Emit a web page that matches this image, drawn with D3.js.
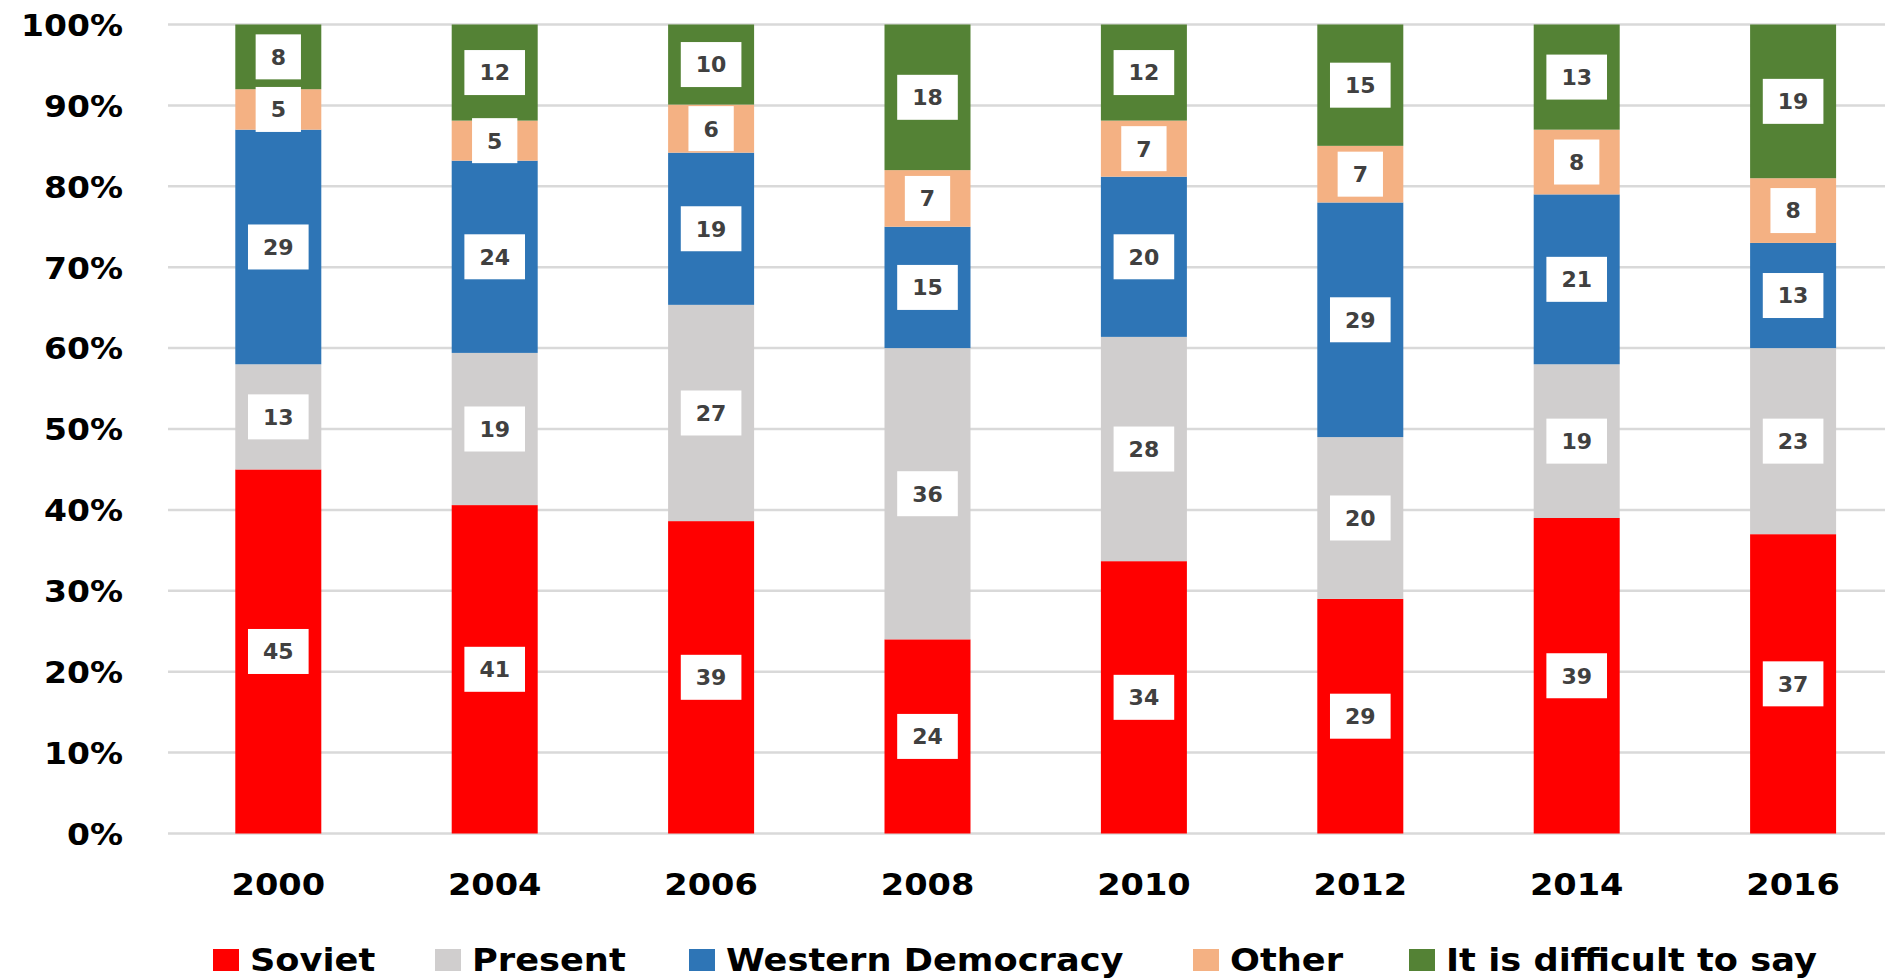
<!DOCTYPE html>
<html>
<head>
<meta charset="utf-8">
<script src="https://cdn.jsdelivr.net/npm/d3@7"></script>
<style>
  html, body { margin: 0; padding: 0; background: #fff; }
  svg { display: block; }
</style>
</head>
<body>
<svg id="chart" width="1885" height="979"></svg>
<script>
// ---- data ----
const years = ["2000", "2004", "2006", "2008", "2010", "2012", "2014", "2016"];
const seriesNames = ["Soviet", "Present", "Western Democracy", "Other", "It is difficult to say"];
const soviet    = [45, 41, 39, 24, 34, 29, 39, 37];
const present   = [13, 19, 27, 36, 28, 20, 19, 23];
const western   = [29, 24, 19, 15, 20, 29, 21, 13];
const other     = [5, 5, 6, 7, 7, 7, 8, 8];
const difficult = [8, 12, 10, 18, 12, 15, 13, 19];
const yTicks = [0, 0.1, 0.2, 0.3, 0.4, 0.5, 0.6, 0.7, 0.8, 0.9, 1.0];
const colors = ["#ff0000", "#d0cece", "#2e75b6", "#f4b183", "#548235"];

// ---- build table ----
const seriesValues = [soviet, present, western, other, difficult];
const rows = years.map((y, i) => {
  const r = { year: y };
  seriesNames.forEach((s, k) => r[s] = seriesValues[k][i]);
  return r;
});

const svg = d3.select("#chart");
const FONT = "'DejaVu Sans', Verdana, sans-serif";

const x = d3.scaleBand().domain(years).range([168, 1903.4]).paddingInner(0.6026).paddingOuter(0.311);
const y = d3.scaleLinear().domain([0, 1]).range([833.5, 24.5]);

function stretch(sel, f) {
  sel.each(function() {
    const w = this.getComputedTextLength();
    d3.select(this).attr("textLength", w * f).attr("lengthAdjust", "spacingAndGlyphs");
  });
}

// gridlines
svg.append("g").selectAll("line").data(yTicks).join("line")
  .attr("x1", 168).attr("x2", 1903)
  .attr("y1", d => y(d)).attr("y2", d => y(d))
  .attr("stroke", "#d9d9d9").attr("stroke-width", 2.5);

// y axis labels
const yAxis = svg.append("g").attr("transform", "translate(123,0)")
  .call(d3.axisLeft(y).tickValues(yTicks).tickFormat(d3.format(".0%")).tickSize(0).tickPadding(0));
yAxis.select(".domain").remove();
yAxis.selectAll("text")
  .attr("font-family", FONT).attr("font-weight", "bold").attr("font-size", 30)
  .attr("fill", "#000").attr("dy", "0.36em");
stretch(yAxis.selectAll("text"), 1.1);

// stacked bars
const stack = d3.stack().keys(seriesNames).offset(d3.stackOffsetExpand);
const stacked = stack(rows);

const layers = svg.append("g").selectAll("g").data(stacked).join("g")
  .attr("fill", (d, i) => colors[i]);
layers.selectAll("rect").data(d => d).join("rect")
  .attr("x", d => x(d.data.year))
  .attr("width", x.bandwidth())
  .attr("y", d => y(d[1]))
  .attr("height", d => y(d[0]) - y(d[1]));

// data labels
const labelData = [];
stacked.forEach((layer) => {
  layer.forEach(d => {
    labelData.push({
      year: d.data.year,
      value: d.data[layer.key],
      mid: (d[0] + d[1]) / 2
    });
  });
});
const lg = svg.append("g").selectAll("g").data(labelData).join("g")
  .attr("transform", d => `translate(${x(d.year) + x.bandwidth() / 2},${y(d.mid)})`);
lg.append("rect").attr("fill", "#fff");
lg.append("text")
  .attr("text-anchor", "middle").attr("dy", "0.36em")
  .attr("font-family", FONT).attr("font-weight", "bold").attr("font-size", 22)
  .attr("fill", "#404040")
  .text(d => d.value);
lg.each(function() {
  const g = d3.select(this);
  const w = g.select("text").node().getComputedTextLength() + 30;
  g.select("rect").attr("x", -w / 2).attr("y", -22.5).attr("width", w).attr("height", 45);
});

// x axis labels
const xAxis = svg.append("g").attr("transform", "translate(0,895)")
  .call(d3.axisBottom(x).tickSize(0).tickPadding(0));
xAxis.select(".domain").remove();
xAxis.selectAll("text")
  .attr("font-family", FONT).attr("font-weight", "bold").attr("font-size", 30)
  .attr("fill", "#000").attr("dy", 0).attr("y", 0);
stretch(xAxis.selectAll("text"), 1.12);

// legend
const legendX = [213, 435, 689, 1193, 1409];
const legend = svg.append("g").attr("transform", "translate(0,971)");
seriesNames.forEach((name, i) => {
  const item = legend.append("g").attr("transform", `translate(${legendX[i]},0)`);
  item.append("rect").attr("x", 0).attr("y", -22).attr("width", 26).attr("height", 22).attr("fill", colors[i]);
  const t = item.append("text").attr("x", 37).attr("y", 0)
    .attr("font-family", FONT).attr("font-weight", "bold").attr("font-size", 32)
    .attr("fill", "#000").text(name);
  stretch(t, 1.1);
});
</script>
</body>
</html>
